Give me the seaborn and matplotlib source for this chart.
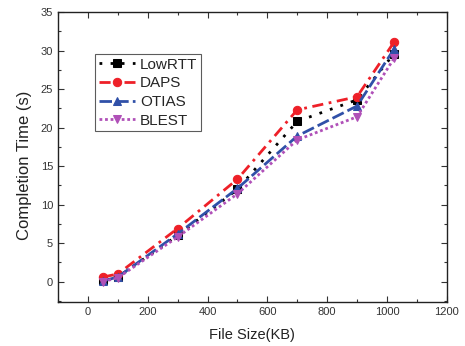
import matplotlib
matplotlib.use("Agg")
import matplotlib.pyplot as plt
import seaborn as sns
import pandas as pd
from matplotlib.ticker import MultipleLocator

file_size = [50, 100, 300, 500, 700, 900, 1024]
lowrtt = [0.2, 0.6, 6.0, 12.0, 20.8, 23.6, 29.6]
daps = [0.6, 1.0, 6.9, 13.3, 22.3, 24.0, 31.1]
otias = [0.1, 0.6, 6.2, 12.1, 18.9, 22.8, 30.2]
blest = [0.0, 0.5, 5.8, 11.4, 18.4, 21.4, 29.0]
series_names = ["LowRTT", "DAPS", "OTIAS", "BLEST"]

sns.set_style("ticks")
plt.rcParams['font.family'] = ['Liberation Sans', 'DejaVu Sans']

fig = plt.figure(figsize=(4.65, 3.46), dpi=100)
ax = fig.add_axes([0.1247, 0.128, 0.836, 0.8373])

styles = {
    "LowRTT": dict(color="black", marker="s", dashes=(1, 3)),
    "DAPS": dict(color="#EE2028", marker="o", dashes=(4, 2, 1, 2)),
    "OTIAS": dict(color="#3050A8", marker="^", dashes=(4.5, 1.5)),
    "BLEST": dict(color="#B050B8", marker="v", dashes=(1, 1)),
}
values = {"LowRTT": lowrtt, "DAPS": daps, "OTIAS": otias, "BLEST": blest}

for name in series_names:
    df = pd.DataFrame({"x": file_size, "y": values[name]})
    st = styles[name]
    sns.lineplot(data=df, x="x", y="y", ax=ax, color=st["color"], marker=st["marker"],
                 markersize=6, markeredgecolor=st["color"], linewidth=2, label=name)
    ax.lines[-1].set_dashes(list(st["dashes"]))

ax.set_xlim(-100, 1200)
ax.set_ylim(-2.6, 35)
ax.xaxis.set_major_locator(MultipleLocator(200))
ax.xaxis.set_minor_locator(MultipleLocator(100))
ax.yaxis.set_major_locator(MultipleLocator(5))
ax.yaxis.set_minor_locator(MultipleLocator(2.5))
ax.tick_params(which="both", direction="in", top=True, right=True, labelsize=8, colors="#333333", labelcolor="#333333")
ax.tick_params(which="major", length=4, width=0.8)
ax.tick_params(which="minor", length=2.5, width=0.8)
for s in ax.spines.values():
    s.set_color("#222222")
    s.set_linewidth(1)
ax.set_xlabel("File Size(KB)", fontsize=10.5, color="#222222", labelpad=8)
ax.set_ylabel("Completion Time (s)", fontsize=12, color="#222222")
ax.yaxis.set_label_coords(-0.067, 0.472)

handles, labels = ax.get_legend_handles_labels()
for h, name in zip(handles, labels):
    h.set_dashes(list(styles[name]["dashes"]))
leg = ax.legend(handles, labels, loc="upper left", bbox_to_anchor=(0.095, 0.855), fontsize=11, frameon=True,
                fancybox=False, edgecolor="#333333", handlelength=2.4, borderpad=0.25,
                labelspacing=0.3, handletextpad=0.3, borderaxespad=0)
leg.get_frame().set_linewidth(0.8)

fig.savefig("out.png", dpi=100)
